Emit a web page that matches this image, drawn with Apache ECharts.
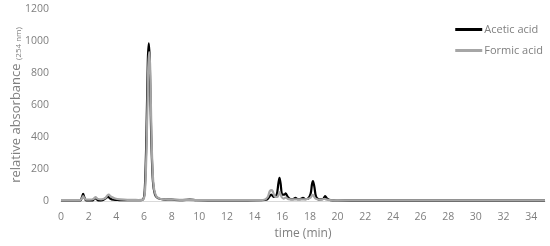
<!DOCTYPE html>
<html lang="en">
<head>
    <meta charset="UTF-8">
    <title>chromatogram</title>
    <script src="https://cdn.jsdelivr.net/npm/echarts@6/dist/echarts.min.js"></script>
    <style>
        body { margin: 0; background: #fff; }
    </style>
</head>
<body>
<div id="main" style="width: 550px;height:246px;"></div>
<script type="text/javascript">
    // values (time in min, absorbance)
    var aceticTime = [0, 1.0, 1.4, 1.52, 1.6, 1.68, 1.8, 2.0, 2.3, 2.45, 2.55, 2.7, 3.0, 3.25, 3.4, 3.55, 3.8, 4.2, 4.6, 5.0, 5.5, 5.9, 6.05, 6.18, 6.28, 6.35, 6.42, 6.52, 6.65, 6.8, 7.0, 7.4, 8.0, 8.8, 9.3, 9.8, 11, 13, 14.5, 14.9, 15.05, 15.2, 15.4, 15.6, 15.72, 15.8, 15.88, 16.0, 16.15, 16.25, 16.4, 16.6, 16.8, 16.95, 17.1, 17.3, 17.5, 17.65, 17.85, 18.05, 18.15, 18.22, 18.32, 18.45, 18.7, 18.95, 19.1, 19.25, 19.5, 20.0, 21, 25, 35];
    var aceticValue = [3, 3, 4, 25, 45, 25, 5, 3, 4, 18, 14, 4, 5, 18, 28, 16, 8, 6, 5, 6, 5, 8, 60, 420, 880, 985, 870, 420, 120, 40, 18, 10, 8, 6, 8, 5, 4, 4, 5, 10, 25, 40, 25, 40, 110, 145, 110, 40, 40, 48, 25, 12, 12, 20, 12, 12, 20, 12, 14, 45, 105, 125, 90, 25, 10, 12, 30, 15, 5, 3, 2, 2, 2];
    var formicTime = [0, 1.0, 1.4, 1.52, 1.6, 1.7, 1.85, 2.1, 2.35, 2.5, 2.65, 2.9, 3.2, 3.35, 3.45, 3.6, 3.9, 4.3, 4.8, 5.2, 5.6, 5.95, 6.08, 6.2, 6.3, 6.37, 6.45, 6.55, 6.68, 6.85, 7.1, 7.5, 8.2, 9.0, 9.5, 10.5, 12, 14, 14.7, 14.95, 15.1, 15.25, 15.45, 15.65, 15.8, 15.95, 16.1, 16.25, 16.45, 16.8, 17.2, 17.6, 18.0, 18.2, 18.4, 18.8, 19.05, 19.15, 19.4, 19.9, 20.5, 25, 35];
    var formicValue = [5, 5, 6, 18, 30, 16, 8, 8, 12, 24, 14, 10, 18, 34, 40, 28, 16, 10, 7, 7, 6, 10, 70, 380, 810, 930, 830, 380, 110, 35, 16, 10, 8, 7, 6, 5, 5, 5, 8, 25, 62, 68, 30, 25, 55, 25, 15, 22, 12, 10, 10, 10, 18, 38, 15, 8, 14, 10, 5, 4, 3, 3, 3];
    var seriesNames = ['Acetic acid', 'Formic acid'];

    function pairs(t, v) {
        var out = [];
        for (var i = 0; i < t.length; i++) {
            out.push([t[i], v[i]]);
        }
        return out;
    }

    var myChart = echarts.init(document.getElementById('main'));
    var textColor = '#7f7f7f';

    var option = {
        animation: false,
        textStyle: { fontFamily: 'Open Sans' },
        grid: { left: 61, right: 5, top: 9, bottom: 45, containLabel: false, outerBoundsMode: 'none' },
        legend: {
            orient: 'vertical',
            right: 2,
            top: 19,
            itemWidth: 27,
            itemHeight: 3,
            itemGap: 10,
            icon: 'rect',
            textStyle: { color: textColor, fontSize: 11, padding: [0, 0, 0, -3] },
            data: seriesNames
        },
        xAxis: {
            type: 'value',
            min: 0,
            max: 35,
            interval: 2,
            name: 'time (min)',
            nameLocation: 'middle',
            nameGap: 27,
            nameMoveOverlap: false,
            nameTextStyle: { color: textColor, fontSize: 12 },
            axisLine: { lineStyle: { color: '#d9d9d9', width: 1 } },
            axisTick: { show: false },
            splitLine: { show: false },
            axisLabel: { color: textColor, fontSize: 10.5, margin: 11, showMaxLabel: false }
        },
        yAxis: {
            type: 'value',
            min: 0,
            max: 1200,
            interval: 200,
            name: 'relative absorbance {s|(254 nm)}',
            nameLocation: 'middle',
            nameRotate: 90,
            nameGap: 38,
            nameMoveOverlap: false,
            nameTextStyle: {
                color: textColor,
                fontSize: 13,
                rich: { s: { fontSize: 8, color: textColor, padding: [4, 0, 0, 0] } }
            },
            axisLine: { show: false },
            axisTick: { show: false },
            splitLine: { show: false },
            axisLabel: {
                color: textColor,
                fontSize: 10.5,
                margin: 12,
                formatter: function (v) { return String(v); }
            }
        },
        series: [
            {
                name: seriesNames[0],
                type: 'line',
                smooth: 0.3,
                showSymbol: false,
                color: '#000000',
                lineStyle: { width: 2.2, color: '#000000' },
                data: pairs(aceticTime, aceticValue)
            },
            {
                name: seriesNames[1],
                type: 'line',
                smooth: 0.3,
                showSymbol: false,
                color: '#a6a6a6',
                lineStyle: { width: 2.2, color: '#a6a6a6' },
                data: pairs(formicTime, formicValue)
            }
        ]
    };

    myChart.setOption(option);
</script>
</body>
</html>
